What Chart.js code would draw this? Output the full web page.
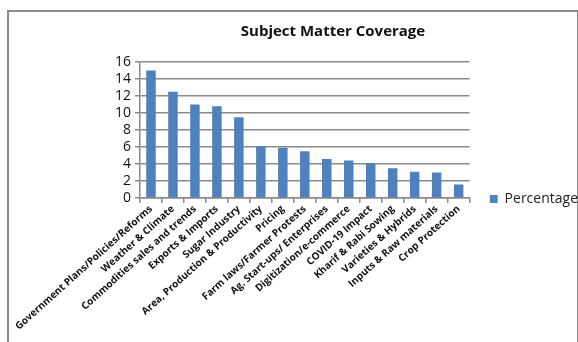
<!DOCTYPE html>
<html>
<head>
<meta charset="utf-8">
<script src="https://cdn.jsdelivr.net/npm/chart.js@4"></script>
<style>
html,body{margin:0;padding:0;background:#fff;}
#wrap{position:relative;width:578px;height:342px;overflow:hidden;}
#frame{position:absolute;left:7px;top:10px;width:568px;height:400px;border-left:2px solid #8a8a8a;border-top:2px solid #8a8a8a;border-right:2px solid #8a8a8a;}
canvas{position:absolute;left:0;top:0;}
</style>
</head>
<body>
<div id="wrap">
<div id="frame"></div>
<canvas id="c" width="578" height="342"></canvas>
</div>
<script>
const categories = ["Government Plans/Policies/Reforms","Weather & Climate","Commodities sales and trends","Exports & Imports","Sugar Industry","Area, Production & Productivity","Pricing","Farm laws/Farmer Protests","Ag. Start-ups/ Enterprises","Digitization/e-commerce","COVID-19 Impact","Kharif & Rabi Sowing","Varieties & Hybrids","Inputs & Raw materials","Crop Protection"];
const percentage = [15.0,12.5,11.0,10.8,9.5,6.1,5.9,5.5,4.6,4.4,4.1,3.5,3.1,3.0,1.6];
const yTicks = [0,2,4,6,8,10,12,14,16];
const seriesName = "Percentage";
const chartTitle = "Subject Matter Coverage";

const shiftBlocks = {
  id:'shiftBlocks',
  afterLayout(chart){
    const t = chart.titleBlock;
    if(t){ t.left += 44; t.right += 44; }
    const l = chart.legend;
    if(l){ l.left += 20; l.right += 20; l.top += 30; l.bottom += 30; }
  }
};

new Chart(document.getElementById('c'), {
  type:'bar',
  data:{
    labels:categories,
    datasets:[{label:seriesName,data:percentage,backgroundColor:'#4f81bd',borderWidth:0,categoryPercentage:0.9,barPercentage:0.48}]
  },
  options:{
    responsive:false,
    animation:false,
    devicePixelRatio:1,
    layout:{padding:{left:10,right:10,top:0,bottom:4}},
    plugins:{
      title:{display:true,text:chartTitle,color:'#111',font:{family:'Open Sans',size:15,weight:'bold'},padding:{top:23,bottom:21}},
      legend:{position:'right',align:'center',labels:{boxWidth:8,boxHeight:8,padding:0,color:'#222',font:{family:'Open Sans',size:14}}},
      tooltip:{enabled:false}
    },
    scales:{
      x:{
        afterFit(axis){axis.height = 140;},
        grid:{display:true,drawOnChartArea:false,drawTicks:true,tickLength:5,color:'#8a8a8a',lineWidth:1.5,offset:true},
        border:{display:true,color:'#8a8a8a',width:1.5},
        ticks:{minRotation:42,maxRotation:42,autoSkip:false,padding:0,color:'#111',font:{family:'Open Sans',size:10,weight:'bold'}}
      },
      y:{
        min:0,max:16,
        afterBuildTicks(axis){axis.ticks = yTicks.map(v=>({value:v}));},
        afterFit(axis){axis.width = 130;},
        grid:{color:'#8a8a8a',lineWidth:1.5,tickLength:5},
        border:{display:true,color:'#8a8a8a',width:1.5},
        ticks:{autoSkip:false,padding:4,color:'#111',font:{family:'Open Sans',size:14}}
      }
    }
  },
  plugins:[shiftBlocks]
});
</script>
</body>
</html>
